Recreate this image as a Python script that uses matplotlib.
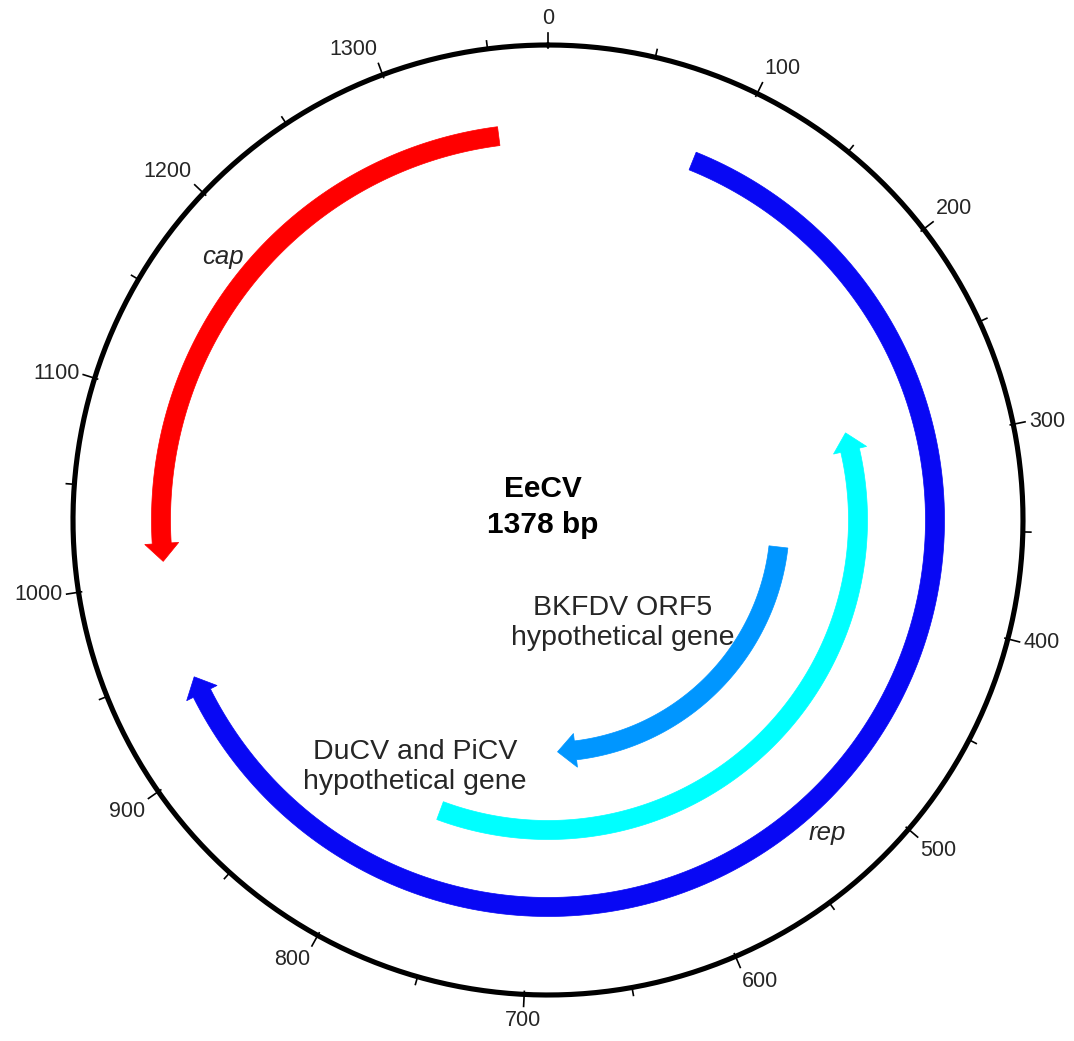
"""Circular genome map of EeCV (1378 bp)."""

import numpy as np
import matplotlib

matplotlib.use("Agg", force=True)
import matplotlib.pyplot as plt
from matplotlib.patches import Polygon

plt.rcParams["font.family"] = ["Liberation Sans", "DejaVu Sans"]

genome_name = "EeCV"
genome_length = 1378
tick_major = list(range(0, 1400, 100))
tick_minor = list(range(50, 1378, 100))

gene_names = ["cap", "rep", "DuCV and PiCV\nhypothetical gene", "BKFDV ORF5\nhypothetical gene"]
gene_starts = [1010, 84, 282, 370]
gene_ends = [1350, 942, 767, 680]
gene_strands = [-1, 1, -1, 1]

# drawing style (pixel units)
W, H = 1074, 1041
CX, CY, R = 548, 520, 475
gene_radius = [387, 387, 310, 232]
gene_colors = ["#ff0000", "#0808f4", "#00ffff", "#0096ff"]
body_w, head_w, head_len = 19, 34, 18
text_color = "#262626"


def bp_to_angle(bp):
    return 2 * np.pi * bp / genome_length


def to_xy(r, theta):
    return CX + r * np.sin(theta), CY - r * np.cos(theta)


def arrow_polygon(start, end, strand, r):
    a0, a1 = bp_to_angle(start), bp_to_angle(end)
    if strand < 0:
        a0, a1 = a1, a0
    sign = 1 if a1 > a0 else -1
    ahead = a1 - sign * head_len / r
    th = np.linspace(a0, ahead, 200)
    outer = [to_xy(r + body_w / 2, t) for t in th]
    inner = [to_xy(r - body_w / 2, t) for t in th[::-1]]
    head = [to_xy(r + head_w / 2, ahead), to_xy(r, a1), to_xy(r - head_w / 2, ahead)]
    return outer + head + inner


fig = plt.figure(figsize=(W / 100, H / 100), dpi=100)
ax = fig.add_axes([0, 0, 1, 1])
ax.set_xlim(0, W)
ax.set_ylim(H, 0)
ax.set_aspect("equal")
ax.axis("off")

# backbone circle
th = np.linspace(0, 2 * np.pi, 720)
xs, ys = to_xy(R, th)
ax.plot(xs, ys, color="black", lw=3.7, solid_capstyle="round")

for bp in tick_minor:
    t = bp_to_angle(bp)
    x0, y0 = to_xy(R, t)
    x1, y1 = to_xy(R + 8, t)
    ax.plot([x0, x1], [y0, y1], color="black", lw=1.2)

for bp in tick_major:
    t = bp_to_angle(bp)
    x0, y0 = to_xy(R - 3, t)
    x1, y1 = to_xy(R + 12, t)
    ax.plot([x0, x1], [y0, y1], color="black", lw=1.2)
    s, c = np.sin(t), np.cos(t)
    ha = "left" if s > 0.3 else ("right" if s < -0.3 else "center")
    va = "bottom" if c > 0.3 else ("top" if c < -0.3 else "center")
    lx, ly = to_xy(R + 16, t)
    ax.text(lx, ly, str(bp), ha=ha, va=va, fontsize=15.5, color=text_color)

for name, st, en, sd, r, col in zip(gene_names, gene_starts, gene_ends, gene_strands,
                                    gene_radius, gene_colors):
    ax.add_patch(Polygon(arrow_polygon(st, en, sd, r), closed=True, facecolor=col,
                         edgecolor=col, lw=0.5))

# gene labels
ax.text(223, 257, gene_names[0], ha="center", va="center", fontsize=18.5,
        style="italic", color=text_color)
ax.text(827, 833, gene_names[1], ha="center", va="center", fontsize=18.5,
        style="italic", color=text_color)
ax.text(415, 767, gene_names[2], ha="center", va="center", fontsize=20.5,
        color=text_color, linespacing=1.2)
ax.text(623, 623, gene_names[3], ha="center", va="center", fontsize=20.5,
        color=text_color, linespacing=1.2)
ax.text(543, 507, f"{genome_name}\n{genome_length} bp", ha="center", va="center",
        fontsize=21.5, fontweight="bold", color="black", linespacing=1.4)

fig.savefig("out.png", dpi=100)
plt.close(fig)
